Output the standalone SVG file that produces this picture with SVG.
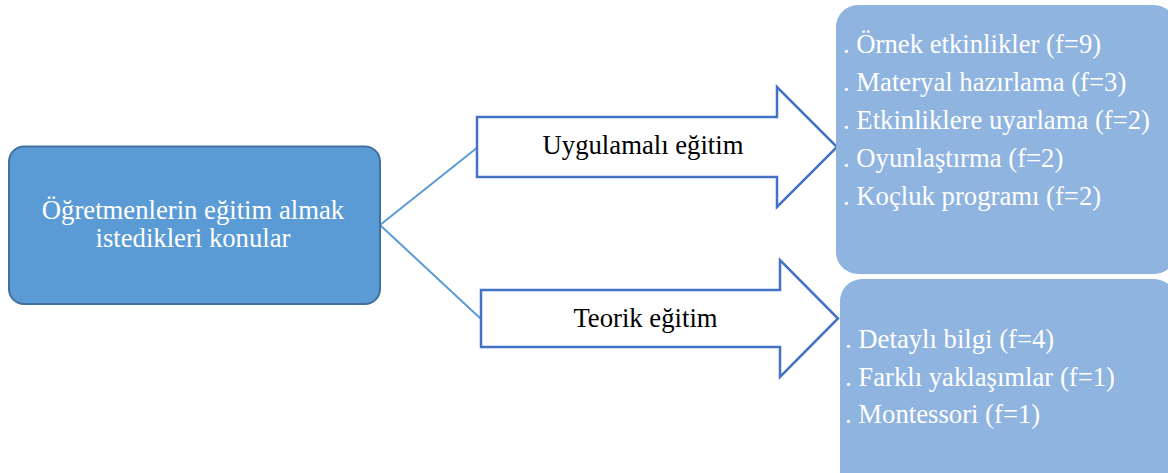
<svg xmlns="http://www.w3.org/2000/svg" width="1168" height="473" viewBox="0 0 1168 473">
  <style>
    .txt { font-family: "Liberation Serif", "Times New Roman", serif; font-size: 26.7px; }
    .white { fill: #ffffff; }
    .dark { fill: #000000; }
    .link { stroke: #5B9BD5; stroke-width: 2; fill: none; }
    .arrow { fill: #ffffff; stroke: #4472C4; stroke-width: 2.5; stroke-linejoin: miter; }
    .list { fill: #8FB4DF; }
  </style>
  <rect width="1168" height="473" fill="#ffffff"/>

  <!-- connectors from the root topic to the two arrows -->
  <g id="connectors">
    <line class="link" x1="380" y1="225" x2="478" y2="147"/>
    <line class="link" x1="380" y1="225" x2="481" y2="319"/>
  </g>

  <!-- root topic -->
  <g id="root">
    <rect x="9" y="146.5" width="371" height="157.5" rx="15" fill="#5B9BD5" stroke="#41719C" stroke-width="2"/>
    <text class="txt white" x="193" y="219" text-anchor="middle">Öğretmenlerin eğitim almak</text>
    <text class="txt white" x="193" y="246.5" text-anchor="middle">istedikleri konular</text>
  </g>

  <!-- practical training arrow -->
  <g id="uygulamali">
    <polygon class="arrow" points="477,117 777,117 777,87 837,147 777,207 777,177 477,177"/>
    <text class="txt dark" x="643" y="154" text-anchor="middle">Uygulamalı eğitim</text>
  </g>

  <!-- theoretical training arrow -->
  <g id="teorik">
    <polygon class="arrow" points="481,290 780,290 780,260 838,318.5 780,377 780,347 481,347"/>
    <text class="txt dark" x="645.5" y="327" text-anchor="middle">Teorik eğitim</text>
  </g>

  <!-- practical training topics -->
  <g id="uygulamali-liste">
    <rect class="list" x="836" y="5" width="340" height="269" rx="22"/>
    <text class="txt white" x="843" y="52.5">. Örnek etkinlikler (f=9)</text>
    <text class="txt white" x="843" y="90.5">. Materyal hazırlama (f=3)</text>
    <text class="txt white" x="843" y="128.5">. Etkinliklere uyarlama (f=2)</text>
    <text class="txt white" x="843" y="166.5">. Oyunlaştırma (f=2)</text>
    <text class="txt white" x="843" y="204.5">. Koçluk programı (f=2)</text>
  </g>

  <!-- theoretical training topics -->
  <g id="teorik-liste">
    <rect class="list" x="840" y="279" width="336" height="220" rx="22"/>
    <text class="txt white" x="845" y="348">. Detaylı bilgi (f=4)</text>
    <text class="txt white" x="845" y="385.5">. Farklı yaklaşımlar (f=1)</text>
    <text class="txt white" x="845" y="423">. Montessori (f=1)</text>
  </g>
</svg>
